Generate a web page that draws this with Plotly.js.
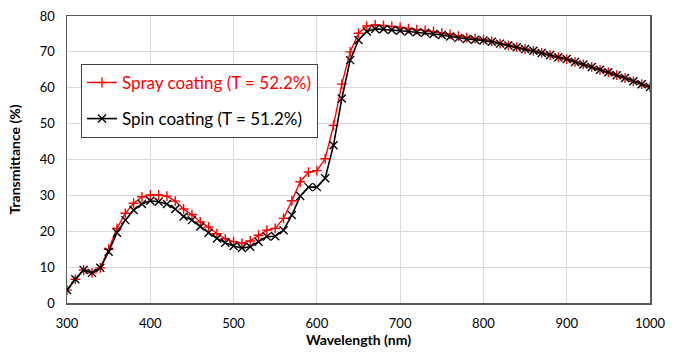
<!DOCTYPE html>
<html>
<head>
<meta charset="utf-8">
<script src="https://cdn.plot.ly/plotly-3.0.1.min.js"></script>
<style>html,body{margin:0;padding:0;background:#fff;}#chart{width:681px;height:353px;}</style>
</head>
<body>
<div id="chart"></div>
<script>
// Wavelength (nm), every 10 nm from 300 to 1000
const wavelength = [300,310,320,330,340,350,360,370,380,390,400,410,420,430,440,450,460,470,480,490,500,510,520,530,540,550,560,570,580,590,600,610,620,630,640,650,660,670,680,690,700,710,720,730,740,750,760,770,780,790,800,810,820,830,840,850,860,870,880,890,900,910,920,930,940,950,960,970,980,990,1000];

const sprayT = [3.6,6.6,9.2,8.4,9.8,15.0,20.8,25.0,27.8,29.6,30.1,30.1,29.8,28.4,26.2,24.6,22.6,21.2,19.3,17.9,17.1,16.6,17.3,18.9,20.3,20.8,23.6,28.5,33.8,36.5,36.9,40.2,49.5,61.0,70.0,75.2,77.2,77.5,77.4,77.1,76.8,76.5,76.2,76.0,75.7,75.3,74.9,74.4,74.0,73.7,73.4,72.9,72.3,71.8,71.3,70.8,70.3,69.7,69.1,68.5,68.0,67.2,66.5,65.8,65.0,64.3,63.5,62.7,61.8,61.0,60.2];

const spinT = [3.6,6.6,9.2,8.4,9.8,14.3,19.6,23.1,25.9,27.6,28.5,28.2,27.6,26.2,24.1,23.1,21.3,19.6,18.0,16.8,15.9,15.3,15.7,17.1,18.5,18.6,20.3,24.5,29.8,32.3,32.3,34.8,44.0,57.0,67.7,73.3,75.7,76.4,76.3,76.1,75.9,75.7,75.5,75.3,75.0,74.7,74.3,73.9,73.6,73.4,73.2,72.8,72.3,71.8,71.3,70.8,70.3,69.7,69.1,68.5,68.0,67.2,66.5,65.8,65.0,64.3,63.5,62.7,61.8,61.0,60.2];

const xTicks = [300,400,500,600,700,800,900,1000];
const yTicks = [0,10,20,30,40,50,60,70,80];

const sprayName = 'Spray coating (T = 52.2%)';
const spinName = 'Spin coating (T = 51.2%)';

const traces = [
  {
    x: wavelength, y: sprayT, type: 'scatter', mode: 'lines+markers',
    name: '<span style="color:#ff0000">' + sprayName + '</span>',
    legendgroup: 'a',
    line: {color: '#ff0000', width: 1.4},
    marker: {symbol: 'cross-thin', size: 7, color: '#ff0000', line: {color: '#ff0000', width: 1.4}}
  },
  {
    x: wavelength, y: spinT, type: 'scatter', mode: 'lines+markers',
    name: '<span style="color:#000000">' + spinName + '</span>',
    legendgroup: 'b',
    line: {color: '#000000', width: 1.6},
    marker: {symbol: 'x-thin', size: 8, color: '#000000', line: {color: '#000000', width: 1.4}}
  }
];

const layout = {
  width: 681, height: 353,
  margin: {l: 67, r: 31, t: 16, b: 50},
  paper_bgcolor: '#ffffff', plot_bgcolor: '#ffffff',
  font: {family: 'Lato, "Open Sans", sans-serif', size: 13, color: '#000000'},
  showlegend: true,
  legend: {
    x: 0.024, y: 0.833, xanchor: 'left', yanchor: 'top',
    bordercolor: '#404040', borderwidth: 1, bgcolor: '#ffffff',
    font: {family: 'Lato, "Open Sans", sans-serif', size: 17},
    traceorder: 'grouped', tracegroupgap: 11,
    itemwidth: 30
  },
  xaxis: {
    range: [300, 1000], tickvals: xTicks, ticktext: xTicks.map(String),
    showgrid: true, gridcolor: '#d9d9d9', gridwidth: 1,
    showline: true, linecolor: '#595959', linewidth: 1.5, mirror: true,
    ticks: 'outside', ticklen: 8, tickcolor: 'rgba(0,0,0,0)', zeroline: false,
    tickfont: {size: 13, color: '#000000'},
    title: {text: '<b>Wavelength (nm)</b>', font: {size: 14}, standoff: 4}
  },
  yaxis: {
    range: [0, 80], tickvals: yTicks, ticktext: yTicks.map(String),
    showgrid: true, gridcolor: '#d9d9d9', gridwidth: 1,
    showline: true, linecolor: '#595959', linewidth: 1.5, mirror: true,
    ticks: 'outside', ticklen: 8, tickcolor: 'rgba(0,0,0,0)', zeroline: false,
    tickfont: {size: 13, color: '#000000'},
    title: {text: '<b>Transmittance (%)</b>', font: {size: 14}, standoff: 16}
  }
};

Plotly.newPlot('chart', traces, layout, {displayModeBar: false, staticPlot: true});
</script>
</body>
</html>
